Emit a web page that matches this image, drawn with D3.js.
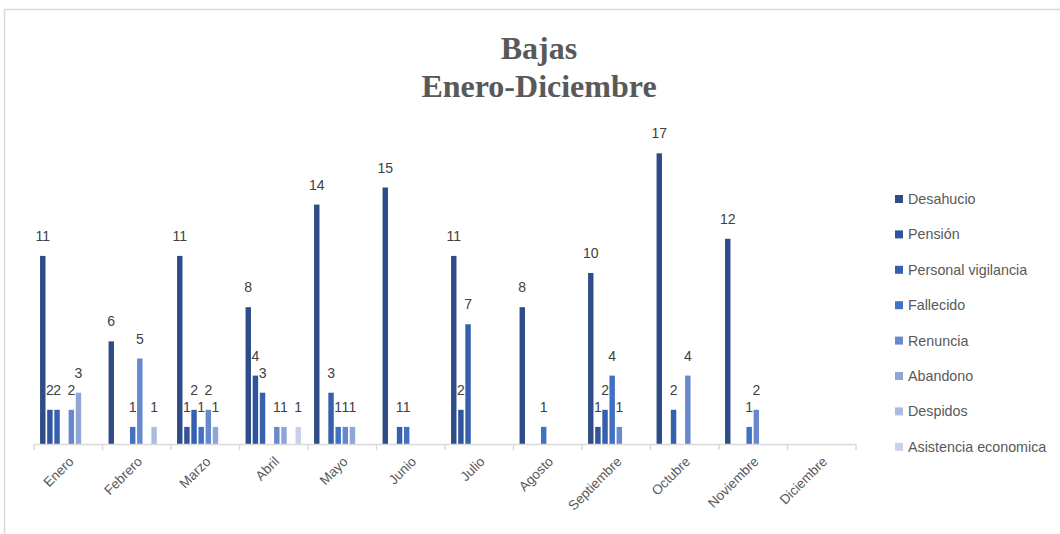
<!DOCTYPE html>
<html>
<head>
<meta charset="utf-8">
<script src="https://cdn.jsdelivr.net/npm/d3@7"></script>
<style>
  body { margin: 0; background: #fff; }
  svg { display: block; }
  .lbl { font-family: "Liberation Sans", Arial, sans-serif; font-size: 14px; fill: #404040; }
  .tick-lbl { font-family: "Liberation Sans", Arial, sans-serif; font-size: 13.5px; fill: #595959; }
  .leg { font-family: "Liberation Sans", Arial, sans-serif; font-size: 14.3px; fill: #595959; }
  .title { font-family: "Liberation Serif", "Times New Roman", serif; font-size: 32px; font-weight: bold; fill: #595959; }
</style>
</head>
<body>
<svg id="chart" width="1060" height="534"></svg>
<script>
// data
const months = ["Enero","Febrero","Marzo","Abril","Mayo","Junio","Julio","Agosto","Septiembre","Octubre","Noviembre","Diciembre"]
const seriesNames = ["Desahucio","Pensión","Personal vigilancia","Fallecido","Renuncia","Abandono","Despidos","Asistencia economica"]
const desahucio   = [11, 6, 11, 8, 14, 15, 11, 8, 10, 17, 12, 0]
const pension     = [2, 0, 1, 4, 0, 0, 2, 0, 1, 0, 0, 0]
const vigilancia  = [2, 0, 2, 3, 3, 1, 7, 0, 2, 2, 0, 0]
const fallecido   = [0, 1, 1, 0, 1, 1, 0, 1, 4, 0, 1, 0]
const renuncia    = [2, 5, 2, 1, 1, 0, 0, 0, 1, 4, 2, 0]
const abandono    = [3, 0, 1, 1, 1, 0, 0, 0, 0, 0, 0, 0]
const despidos    = [0, 1, 0, 0, 0, 0, 0, 0, 0, 0, 0, 0]
const asistencia  = [0, 0, 0, 1, 0, 0, 0, 0, 0, 0, 0, 0]
const colors = ["#2e4d88","#31549c","#365fae","#4270c2","#6788cc","#8ea6d7","#abbbe0","#c8d1e9"]

const allSeries = [desahucio, pension, vigilancia, fallecido, renuncia, abandono, despidos, asistencia]

const svg = d3.select("#chart")

// chart border
svg.append("rect")
  .attr("x", 4.5).attr("y", 9.5)
  .attr("width", 1070).attr("height", 540)
  .attr("fill", "none").attr("stroke", "#d9d9d9").attr("stroke-width", 1.5)

// title
const title = svg.append("text").attr("class", "title").attr("text-anchor", "middle")
title.append("tspan").attr("x", 539).attr("y", 59).text("Bajas")
title.append("tspan").attr("x", 539).attr("y", 97).text("Enero-Diciembre")

const x0 = d3.scaleBand().domain(months).range([34, 856])
const x1 = d3.scaleBand().domain(seriesNames).range([5.2, 62.3]).paddingInner(0.24).paddingOuter(0.12)
const y = d3.scaleLinear().domain([0, 20]).range([444, 102])

const rows = []
months.forEach((m, i) => {
  seriesNames.forEach((s, k) => {
    rows.push({ month: m, series: s, value: allSeries[k][i], color: colors[k] })
  })
})
const shown = rows.filter(d => d.value > 0)

// bars
svg.append("g").selectAll("rect")
  .data(shown)
  .enter()
  .append("rect")
  .attr("x", d => x0(d.month) + x1(d.series))
  .attr("y", d => y(d.value))
  .attr("width", x1.bandwidth())
  .attr("height", d => y(0) - y(d.value))
  .attr("fill", d => d.color)

// value labels
svg.append("g").selectAll("text")
  .data(shown)
  .enter()
  .append("text")
  .attr("class", "lbl")
  .attr("text-anchor", "middle")
  .attr("x", d => x0(d.month) + x1(d.series) + x1.bandwidth() / 2)
  .attr("y", d => y(d.value) - 15)
  .text(d => d.value)

// category axis
const ax = svg.append("g")
ax.append("line")
  .attr("x1", x0.range()[0]).attr("x2", x0.range()[1])
  .attr("y1", 444.5).attr("y2", 444.5)
  .attr("stroke", "#d9d9d9").attr("stroke-width", 1.5)
const bounds = months.map(m => x0(m)).concat([x0.range()[1]])
ax.selectAll("line.tk")
  .data(bounds)
  .enter()
  .append("line")
  .attr("class", "tk")
  .attr("x1", d => d).attr("x2", d => d)
  .attr("y1", 444.5).attr("y2", 450)
  .attr("stroke", "#d9d9d9").attr("stroke-width", 1.5)
ax.selectAll("text")
  .data(months)
  .enter()
  .append("text")
  .attr("class", "tick-lbl")
  .attr("text-anchor", "end")
  .attr("transform", m => `translate(${x0(m) + x0.bandwidth() / 2 + 3}, 459) rotate(-45)`)
  .attr("dy", "0.35em")
  .text(m => m)

// legend
const leg = svg.append("g")
seriesNames.forEach((s, k) => {
  const ly = 199 + k * 35.4
  leg.append("rect")
    .attr("x", 895).attr("y", ly - 4).attr("width", 8).attr("height", 8)
    .attr("fill", colors[k])
  leg.append("text")
    .attr("class", "leg")
    .attr("x", 908).attr("y", ly)
    .attr("dy", "0.35em")
    .text(s)
})
</script>
</body>
</html>
